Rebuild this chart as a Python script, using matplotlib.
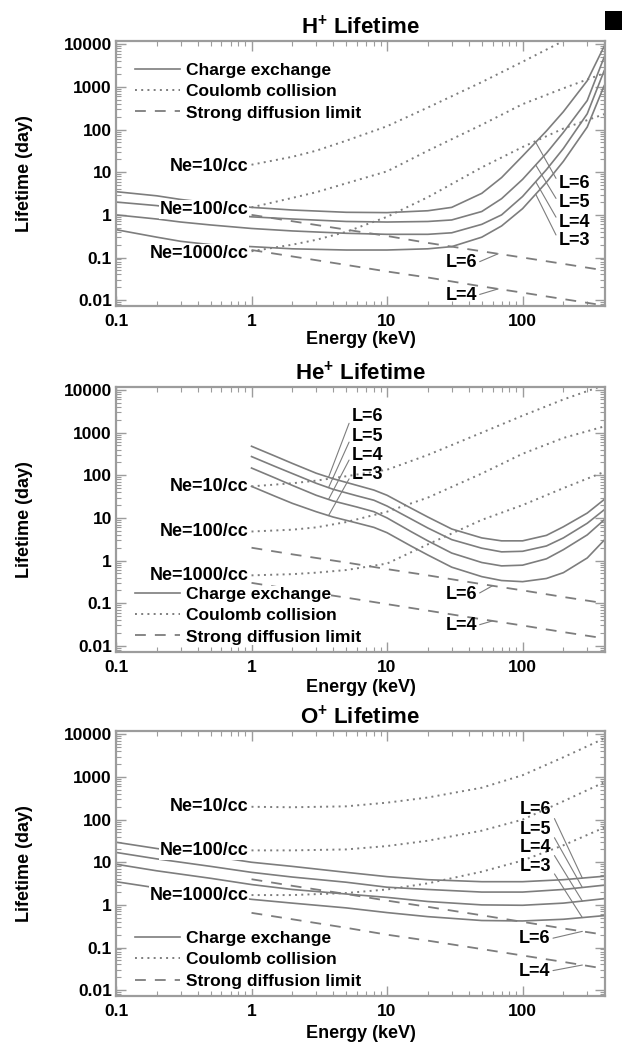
import numpy as np
import matplotlib

matplotlib.use("Agg")
import matplotlib.pyplot as plt
from matplotlib.lines import Line2D
from matplotlib.patches import Rectangle
from matplotlib.ticker import FixedLocator, FuncFormatter, LogLocator, NullFormatter


# ---------------- H+ panel ----------------
H_CX_ENERGY = [0.1, 0.2, 0.3, 0.5, 1, 2, 5, 10, 20, 30, 50, 70, 100, 150, 200, 300, 400]
H_CX_L6 = [3.5, 2.8, 2.3, 1.9, 1.5, 1.3, 1.15, 1.13, 1.25, 1.5, 3.2, 7.5, 24, 93, 263, 1400, 9000]
H_CX_L5 = [2.0, 1.65, 1.4, 1.15, 0.9, 0.8, 0.7, 0.68, 0.7, 0.76, 1.2, 2.4, 6.8, 28, 86, 480, 5000]
H_CX_L4 = [1.0, 0.8, 0.68, 0.58, 0.48, 0.42, 0.37, 0.35, 0.35, 0.38, 0.6, 1.0, 2.7, 11.5, 36, 235, 2400]
H_CX_L3 = [0.45, 0.3, 0.24, 0.2, 0.18, 0.16, 0.15, 0.15, 0.16, 0.18, 0.3, 0.55, 1.4, 5.8, 18, 115, 1070]

H_CC_ENERGY = [1, 2, 3, 5, 10, 20, 50, 100, 200, 400]
H_CC_NE10 = [15, 23, 32, 55, 120, 330, 1300, 3900, 12000, 34000]
H_CC_NE100 = [1.5, 2.5, 3.4, 5.5, 10.5, 32, 130, 395, 930, 2100]
H_CC_NE1000 = [0.14, 0.2, 0.26, 0.4, 0.9, 2.6, 13, 39, 106, 230]

SD_ENERGY = [1, 2, 5, 10, 20, 50, 100, 200, 400]
H_SD_L6 = [1.0, 0.71, 0.45, 0.32, 0.22, 0.14, 0.1, 0.071, 0.05]
H_SD_L4 = [0.15, 0.106, 0.067, 0.047, 0.034, 0.021, 0.015, 0.0106, 0.0075]

# ---------------- He+ panel ----------------
HE_CX_ENERGY = [1, 1.5, 2, 3, 4, 6, 8, 10, 15, 20, 30, 50, 70, 100, 150, 200, 300, 400]
HE_CX_L6 = [480, 280, 190, 112, 83, 58, 45, 34, 17, 10.5, 5.5, 3.4, 2.9, 2.9, 3.9, 6.2, 13, 27]
HE_CX_L5 = [275, 160, 110, 65, 47, 33, 26, 19, 9.5, 5.8, 3.1, 1.95, 1.6, 1.65, 2.2, 3.4, 7.5, 15.5]
HE_CX_L4 = [148, 86, 58, 34, 25, 18, 14, 10, 4.8, 2.9, 1.5, 0.9, 0.75, 0.78, 1.1, 1.8, 4.0, 9.0]
HE_CX_L3 = [55, 32, 22, 14, 10.5, 7.6, 6.0, 4.5, 2.2, 1.35, 0.7, 0.42, 0.34, 0.32, 0.38, 0.52, 1.15, 3.0]

HE_CC_ENERGY = [1, 2, 3, 5, 10, 20, 50, 100, 200, 400]
HE_CC_NE10 = [55, 65, 75, 95, 135, 300, 1000, 2500, 6000, 13000]
HE_CC_NE100 = [4.8, 5.3, 6, 8, 14, 30, 110, 320, 750, 1400]
HE_CC_NE1000 = [0.45, 0.48, 0.52, 0.6, 0.85, 2.4, 9, 20, 50, 120]

HE_SD_L6 = [2.0, 1.4, 0.9, 0.63, 0.45, 0.28, 0.2, 0.14, 0.1]
HE_SD_L4 = [0.3, 0.21, 0.135, 0.095, 0.067, 0.042, 0.03, 0.021, 0.015]

# ---------------- O+ panel ----------------
O_CX_ENERGY = [0.1, 0.2, 0.5, 1, 2, 5, 10, 20, 50, 100, 200, 400]
O_CX_L6 = [29.5, 21, 14, 10, 8, 5.8, 4.6, 3.9, 3.5, 3.5, 3.9, 4.7]
O_CX_L5 = [17, 12, 8, 5.8, 4.5, 3.4, 2.6, 2.3, 2.0, 2.0, 2.3, 2.9]
O_CX_L4 = [9, 6.3, 4.2, 3.0, 2.3, 1.8, 1.5, 1.2, 1.0, 0.98, 1.1, 1.4]
O_CX_L3 = [3.5, 2.5, 1.8, 1.35, 1.1, 0.85, 0.66, 0.53, 0.43, 0.42, 0.46, 0.56]

O_CC_ENERGY = [1, 2, 5, 10, 20, 50, 100, 200, 400]
O_CC_NE10 = [200, 195, 205, 250, 330, 560, 1100, 2900, 8000]
O_CC_NE100 = [19, 19, 20, 24, 32, 55, 100, 270, 750]
O_CC_NE1000 = [1.7, 1.7, 1.9, 2.3, 3.2, 6, 11, 25, 65]

O_SD_L6 = [4.0, 2.8, 1.8, 1.26, 0.9, 0.57, 0.4, 0.28, 0.2]
O_SD_L4 = [0.65, 0.46, 0.29, 0.2, 0.145, 0.092, 0.065, 0.046, 0.032]

L_LABELS = ["L=6", "L=5", "L=4", "L=3"]
SD_LABELS = ["L=6", "L=4"]
NE_LABELS = ["Ne=10/cc", "Ne=100/cc", "Ne=1000/cc"]
LEGEND_LABELS = ["Charge exchange", "Coulomb collision", "Strong diffusion limit"]
X_TICKS = [0.1, 1, 10, 100]
Y_TICKS = [0.01, 0.1, 1, 10, 100, 1000, 10000]

GRAY = "#7d7d7d"
SPINE = "#9c9c9c"
DOT = (0, (1, 2.2))
DASH = (0, (6, 5))

plt.rcParams["font.family"] = ["Liberation Sans", "DejaVu Sans"]
plt.rcParams["font.weight"] = "bold"
plt.rcParams["mathtext.fontset"] = "custom"
plt.rcParams["mathtext.rm"] = "Liberation Sans"
plt.rcParams["mathtext.bf"] = "Liberation Sans:bold"


def curve_value(energy, values, e):
    return 10 ** np.interp(np.log10(e), np.log10(energy), np.log10(values))


def draw_panel(ax, title, cx, cc, sd, layout):
    cx_e, cx_curves = cx
    cc_e, cc_curves = cc
    sd_curves = sd

    for vals in cx_curves:
        ax.plot(cx_e, vals, color=GRAY, lw=1.2, zorder=2)
    for vals in cc_curves:
        ax.plot(cc_e, vals, color=GRAY, lw=1.4, ls=DOT, zorder=2)
    for vals in sd_curves:
        ax.plot(SD_ENERGY, vals, color=GRAY, lw=1.3, ls=DASH, zorder=2)

    ax.set_xscale("log")
    ax.set_yscale("log")
    ax.set_xlim(0.1, 405)
    ax.set_ylim(0.0073, 12000)

    # Ne labels, right aligned where the Coulomb curves start
    for text, vals in zip(NE_LABELS, cc_curves):
        ax.text(0.95, vals[0] * layout["ne_shift"], text, ha="right", va="center",
                fontsize=13, zorder=4,
                bbox=dict(facecolor="white", edgecolor="none", pad=0.6))

    # L labels for charge exchange curves with leader lines
    lx, lys, ex, relpos, ha = layout["cx_labels"]
    for text, ly, vals in zip(L_LABELS, lys, cx_curves):
        ax.annotate(text, xy=(ex, curve_value(cx_e, vals, ex)), xytext=(lx, ly),
                    ha=ha, va="center", fontsize=13, zorder=4,
                    arrowprops=dict(arrowstyle="-", color=GRAY, lw=0.8,
                                    shrinkA=0, shrinkB=0, relpos=relpos))

    # L labels for strong diffusion curves
    sx, sys_, sex = layout["sd_labels"]
    for text, sy, vals in zip(SD_LABELS, sys_, sd_curves):
        ax.annotate(text, xy=(sex, curve_value(SD_ENERGY, vals, sex)), xytext=(sx, sy),
                    ha="right", va="center", fontsize=13, zorder=4,
                    arrowprops=dict(arrowstyle="-", color=GRAY, lw=0.8,
                                    shrinkA=0, shrinkB=0, relpos=(1, 0.5)))

    handles = [
        Line2D([], [], color=GRAY, lw=1.2),
        Line2D([], [], color=GRAY, lw=1.4, ls=DOT),
        Line2D([], [], color=GRAY, lw=1.3, ls=DASH),
    ]
    leg = ax.legend(handles, LEGEND_LABELS, loc="upper left",
                    bbox_to_anchor=(0.036, layout["legend_top"]),
                    fontsize=12.5, frameon=False, borderpad=0.1,
                    borderaxespad=0, handlelength=2.6, handletextpad=0.3,
                    labelspacing=0.36)
    for t in leg.get_texts():
        t.set_bbox(dict(facecolor="white", edgecolor="none", pad=0.4))
    leg.set_zorder(5)

    ax.set_title(title, fontsize=16, fontweight="bold", pad=5)
    ax.set_xlabel("Energy (keV)", fontsize=13, fontweight="bold", labelpad=layout["xpad"])
    ax.set_ylabel("Lifetime (day)", fontsize=13, fontweight="bold")
    ax.yaxis.set_label_coords(-0.17, 0.5)

    ax.xaxis.set_major_locator(FixedLocator(X_TICKS))
    ax.yaxis.set_major_locator(FixedLocator(Y_TICKS))
    fmt = FuncFormatter(lambda v, _: f"{v:g}")
    ax.xaxis.set_major_formatter(fmt)
    ax.yaxis.set_major_formatter(fmt)
    for axis in (ax.xaxis, ax.yaxis):
        axis.set_minor_locator(LogLocator(base=10, subs=np.arange(2, 10), numticks=20))
        axis.set_minor_formatter(NullFormatter())
    ax.tick_params(which="both", direction="in", top=True, right=True,
                   color=SPINE, labelsize=12.5, labelcolor="black")
    ax.tick_params(which="major", length=7, width=1.0)
    ax.tick_params(which="minor", length=3.5, width=0.8)
    ax.tick_params(axis="x", pad=6)
    ax.tick_params(axis="y", pad=3)
    for label in ax.get_xticklabels() + ax.get_yticklabels():
        label.set_fontweight("bold")
    for spine in ax.spines.values():
        spine.set_color(SPINE)
        spine.set_linewidth(1.6)


def main():
    fig = plt.figure(figsize=(6.22, 10.45), dpi=100)
    left, width, height = 0.1865, 0.786, 0.2536
    bottoms = [0.7072, 0.3764, 0.0469]
    axes = [fig.add_axes([left, b, width, height]) for b in bottoms]

    draw_panel(
        axes[0], r"H$^{\mathbf{+}}$ Lifetime",
        (H_CX_ENERGY, [H_CX_L6, H_CX_L5, H_CX_L4, H_CX_L3]),
        (H_CC_ENERGY, [H_CC_NE10, H_CC_NE100, H_CC_NE1000]),
        [H_SD_L6, H_SD_L4],
        dict(ne_shift=0.9, cx_labels=(185, [5.5, 1.9, 0.68, 0.25], 125, (0, 0.5), "left"),
             sd_labels=(46, [0.075, 0.013], 66), legend_top=0.925, xpad=1),
    )
    draw_panel(
        axes[1], r"He$^{\mathbf{+}}$ Lifetime",
        (HE_CX_ENERGY, [HE_CX_L6, HE_CX_L5, HE_CX_L4, HE_CX_L3]),
        (HE_CC_ENERGY, [HE_CC_NE10, HE_CC_NE100, HE_CC_NE1000]),
        [HE_SD_L6, HE_SD_L4],
        dict(ne_shift=1.0, cx_labels=(5.5, [2350, 800, 290, 103], 3.7, (0, 0.55), "left"),
             sd_labels=(46, [0.16, 0.03], 60), legend_top=0.252, xpad=3),
    )
    draw_panel(
        axes[2], r"O$^{\mathbf{+}}$ Lifetime",
        (O_CX_ENERGY, [O_CX_L6, O_CX_L5, O_CX_L4, O_CX_L3]),
        (O_CC_ENERGY, [O_CC_NE10, O_CC_NE100, O_CC_NE1000]),
        [O_SD_L6, O_SD_L4],
        dict(ne_shift=1.0, cx_labels=(96, [175, 59, 22, 8.1], 276, (1, 0.3), "left"),
             sd_labels=(160, [0.16, 0.028], 276), legend_top=0.252, xpad=4),
    )

    fig.add_artist(Rectangle((0.973, 0.971), 0.027, 0.018, transform=fig.transFigure,
                             facecolor="black", edgecolor="none"))
    fig.savefig("out.png", dpi=100, facecolor="white")
    plt.close(fig)


if __name__ == "__main__":
    main()
